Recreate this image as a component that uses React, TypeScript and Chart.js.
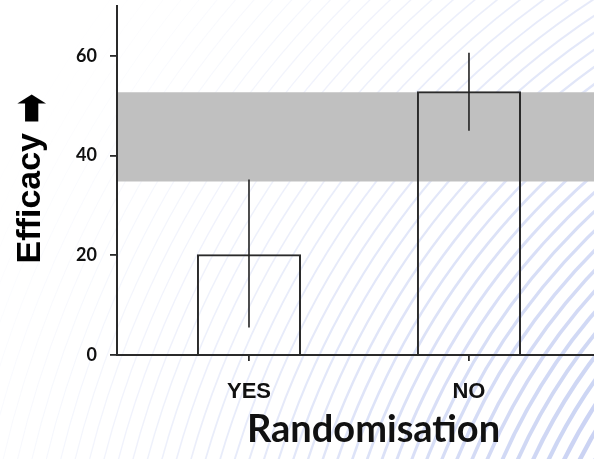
import React, { useEffect, useRef } from 'react';
import { Chart, registerables } from 'chart.js';

Chart.register(...registerables);

const categories = ['YES', 'NO'];
const efficacy = [20.2, 52.9];
const errorLow = [5.5, 45.0];
const errorHigh = [35.2, 60.6];
const bandRange = [34.8, 52.7];
const yTicks = [0, 20, 40, 60];
const yTitle = 'Efficacy';
const yArrow = '➡';

const hatchPlugin = {
  id: 'hatch',
  beforeDraw(chart: any) {
    const c = chart.ctx;
    c.save();
    c.fillStyle = '#ffffff';
    c.fillRect(0, 0, chart.width, chart.height);
    const cx = 1050;
    const cy = 700;
    for (let r = 500; r < 1250; r += 14) {
      const t = Math.min(1, Math.max(0, (r - 510) / (1200 - 510)));
      const a = 0.6 * Math.pow(1 - t, 1.2);
      if (a < 0.01) continue;
      c.strokeStyle = `rgba(165,180,235,${a})`;
      c.lineWidth = 0.9 + 3.8 * Math.pow(1 - t, 2);
      c.beginPath();
      c.arc(cx, cy, r, 0, Math.PI * 2);
      c.stroke();
    }
    c.restore();
  },
};

const bandPlugin = {
  id: 'band',
  beforeDatasetsDraw(chart: any) {
    const { ctx, chartArea, scales } = chart;
    const y1 = scales.y.getPixelForValue(bandRange[1]);
    const y0 = scales.y.getPixelForValue(bandRange[0]);
    ctx.save();
    ctx.fillStyle = '#c0c0c0';
    ctx.fillRect(chartArea.left + 1, y1, chartArea.right - chartArea.left, y0 - y1);
    ctx.restore();
  },
};

const errorPlugin = {
  id: 'errors',
  afterDatasetsDraw(chart: any) {
    const { ctx, scales } = chart;
    ctx.save();
    ctx.strokeStyle = '#222';
    ctx.lineWidth = 1.6;
    categories.forEach((_, i) => {
      const x = scales.x.getPixelForValue(i + 1);
      ctx.beginPath();
      ctx.moveTo(x, scales.y.getPixelForValue(errorHigh[i]));
      ctx.lineTo(x, scales.y.getPixelForValue(errorLow[i]));
      ctx.stroke();
    });
    ctx.restore();
  },
};

const yTitlePlugin = {
  id: 'ytitle',
  afterDraw(chart: any) {
    const { ctx, chartArea } = chart;
    const titleFont = 'bold 34px "Liberation Sans", Arial, sans-serif';
    const arrowFont = '34px "DejaVu Sans", sans-serif';
    const along = 1.05;
    const across = 1.7;
    ctx.save();
    ctx.font = titleFont;
    const wT = ctx.measureText(yTitle + ' ').width;
    ctx.font = arrowFont;
    const wA = ctx.measureText(yArrow).width * along;
    const total = wT + wA;
    const cy = (chartArea.top + chartArea.bottom) / 2;
    const x = 31;
    ctx.translate(x, cy + total / 2 - 2);
    ctx.rotate(-Math.PI / 2);
    ctx.fillStyle = '#000';
    ctx.textBaseline = 'middle';
    ctx.textAlign = 'left';
    ctx.font = titleFont;
    ctx.fillText(yTitle + ' ', 0, 0);
    ctx.translate(wT, 0);
    ctx.scale(along, across);
    ctx.font = arrowFont;
    ctx.fillText(yArrow, 0, 2.5);
    ctx.restore();
  },
};

const zeroPad = (s: any) => {
  s.paddingTop = 0;
  s.paddingBottom = 0;
  s.paddingLeft = 0;
  s.paddingRight = 0;
};

export default function App() {
  const ref = useRef<HTMLCanvasElement>(null);
  useEffect(() => {
    document.body.style.margin = '0';
    const chart = new Chart(ref.current!, {
      type: 'bar',
      data: {
        datasets: [
          {
            data: efficacy.map((v, i) => ({ x: i + 1, y: v })),
            backgroundColor: 'rgba(0,0,0,0)',
            borderColor: '#2a2a2a',
            borderWidth: 2,
            categoryPercentage: 1,
            barPercentage: 0.473,
          },
        ],
      },
      options: {
        animation: false,
        responsive: true,
        maintainAspectRatio: false,
        layout: { padding: { top: 6, left: 0, right: 0, bottom: 0 } },
        plugins: { legend: { display: false }, tooltip: { enabled: false } },
        scales: {
          x: {
            type: 'linear',
            offset: false,
            min: 0.4,
            max: 2.732,
            afterBuildTicks: (s: any) => {
              s.ticks = categories.map((_, i) => ({ value: i + 1 }));
            },
            afterFit: (s: any) => {
              s.height = 104;
              zeroPad(s);
            },
            grid: { offset: false, drawOnChartArea: false, drawTicks: true, tickLength: 6, color: '#2a2a2a', lineWidth: 1.8 },
            border: { display: true, color: '#2a2a2a', width: 2 },
            ticks: {
              padding: 18,
              color: '#111',
              font: { family: 'Liberation Sans', weight: 'bold', size: 22 },
              callback: (v: any) => categories[Number(v) - 1] ?? '',
            },
            title: {
              display: true,
              text: 'Randomisation',
              color: '#111',
              font: { family: 'Lato', weight: 'bold', size: 38 },
              padding: { top: 0, bottom: 6 },
            },
          },
          y: {
            min: 0,
            max: 70,
            afterBuildTicks: (s: any) => {
              s.ticks = yTicks.map((v) => ({ value: v }));
            },
            afterFit: (s: any) => {
              s.width = 117;
              zeroPad(s);
            },
            grid: { drawOnChartArea: false, drawTicks: true, tickLength: 7, color: '#2a2a2a', lineWidth: 1.8 },
            border: { display: true, color: '#2a2a2a', width: 2 },
            ticks: {
              padding: 13,
              color: '#111',
              font: { family: 'Lato', weight: 'bold', size: 18 },
            },
            title: { display: false },
          },
        },
      },
      plugins: [hatchPlugin, bandPlugin, errorPlugin, yTitlePlugin],
    });
    return () => chart.destroy();
  }, []);
  return (
    <div style={{ position: 'fixed', left: 0, top: 0, width: 594, height: 459, overflow: 'hidden' }}>
      <div style={{ position: 'relative', width: 630, height: 459 }}>
        <canvas ref={ref} />
      </div>
    </div>
  );
}
